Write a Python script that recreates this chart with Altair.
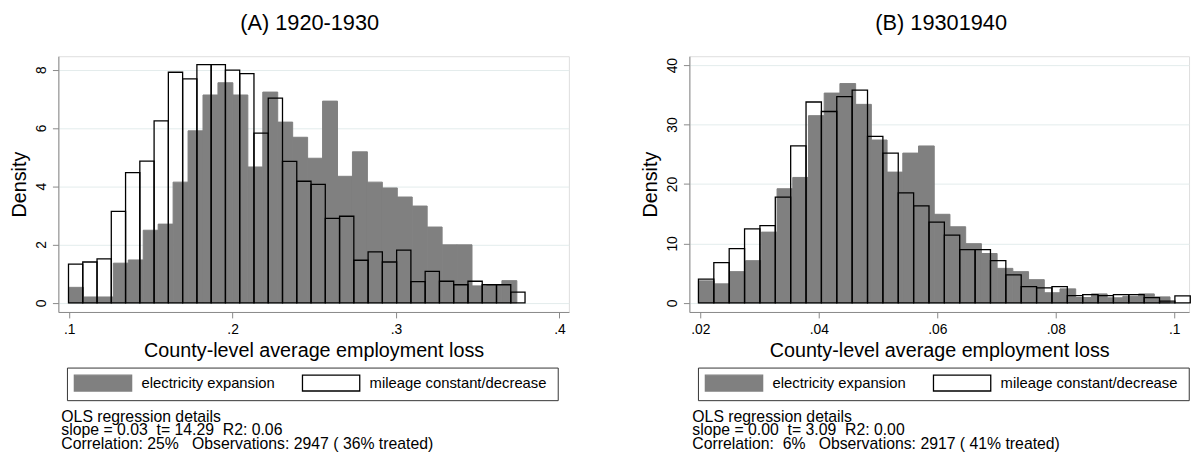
import altair as alt
import pandas as pd

FONT = "Liberation Sans"
GRAY = "#808080"
SERIES = ["electricity expansion", "mileage constant/decrease"]
X_TITLE = "County-level average employment loss"
Y_TITLE = "Density"

# ---------------- Panel A ----------------
a_title = "(A) 1920-1930"
a_gray_start, a_gray_width = 0.0996, 0.009145
a_gray = [0.53, 0.20, 0.20, 1.36, 1.47, 2.49, 2.70, 4.14, 5.90, 7.13,
          7.55, 7.13, 4.66, 7.23, 6.20, 5.68, 4.96, 6.92, 4.34, 5.18,
          4.14, 3.94, 3.63, 3.32, 2.60, 1.99, 1.99, 0.58, 0.62, 0.76]
a_out_start, a_out_width = 0.0996, 0.00873
a_out = [1.33, 1.40, 1.51, 3.14, 4.47, 4.86, 6.24, 7.91, 7.68, 8.17,
         8.17, 7.98, 7.86, 5.82, 7.02, 4.85, 4.17, 4.06, 2.90, 2.97,
         1.46, 1.75, 1.40, 1.81, 0.73, 1.08, 0.74, 0.62, 0.74, 0.62,
         0.62, 0.37]
a_xticks = [0.1, 0.2, 0.3, 0.4]
a_xlabels = [".1", ".2", ".3", ".4"]
a_yticks = [0, 2, 4, 6, 8]
a_xdomain = [0.0934, 0.4058]
a_ydomain = [-0.315, 8.46]
a_notes = ["OLS regression details",
           "slope = 0.03  t= 14.29  R2: 0.06",
           "Correlation: 25%   Observations: 2947 ( 36% treated)"]

# ---------------- Panel B ----------------
b_title = "(B) 19301940"
b_gray_start, b_gray_width = 0.0197, 0.002653
b_gray = [3.7, 3.2, 5.25, 7.1, 11.9, 19.2, 21.1, 31.5, 35.3, 36.9,
          33.4, 27.4, 22.0, 25.2, 26.4, 14.9, 12.8, 9.96, 8.3, 5.8,
          5.25, 3.9, 1.7, 2.35, 0.9, 1.5, 0.85, 1.1, 1.5, 1.0]
b_out_start, b_out_width = 0.0197, 0.002594
b_out = [3.98, 6.75, 9.13, 12.44, 13.0, 17.8, 26.4, 33.8, 32.2, 34.7,
         35.8, 28.0, 25.2, 18.5, 16.3, 13.6, 11.4, 8.96, 8.96, 7.1,
         4.71, 2.72, 2.5, 2.72, 1.22, 1.39, 1.22, 1.39, 1.39, 0.89,
         0.28, 1.17]
b_xticks = [0.02, 0.04, 0.06, 0.08, 0.1]
b_xlabels = [".02", ".04", ".06", ".08", ".1"]
b_yticks = [0, 10, 20, 30, 40]
b_xdomain = [0.018167, 0.1025]
b_ydomain = [-1.54, 41.5]
b_notes = ["OLS regression details",
           "slope = 0.00  t= 3.09  R2: 0.00",
           "Correlation:  6%   Observations: 2917 ( 41% treated)"]

NBSP = "\u00a0"


def bins(start, width, heights, series):
    return pd.DataFrame({
        "x0": [start + i * width for i in range(len(heights))],
        "x1": [start + (i + 1) * width for i in range(len(heights))],
        "h": heights,
        "series": series,
    })


def label_expr(ticks, labels):
    expr = "''"
    for t, l in reversed(list(zip(ticks, labels))):
        expr = f"abs(datum.value - {t}) < 1e-6 ? '{l}' : ({expr})"
    return expr


def panel(title, dx, gs, gw, gh, os_, ow, oh, xticks, xlabels, yticks,
          xdom, ydom, notes, width, height):
    df_g = bins(gs, gw, gh, SERIES[0])
    df_o = bins(os_, ow, oh, SERIES[1])

    leg = alt.Legend(
        title=NBSP, titleOrient="right", titlePadding=5, titleFontSize=15,
        orient="none", legendX=8.7, legendY=315.3,
        direction="horizontal", strokeColor="#333333", padding=6.5,
        symbolType="M-1,-1L6.25,-1L6.25,1L-1,1Z",
        symbolSize=256, symbolStrokeWidth=1.3,
        labelFontSize=15, labelFont=FONT, labelColor="black",
        labelOffset=51, columnPadding=24, labelLimit=400,
    )
    fill_scale = alt.Scale(domain=SERIES, range=[GRAY, "white"])
    stroke_scale = alt.Scale(domain=SERIES, range=[GRAY, "black"])

    x = alt.X("x0:Q",
              scale=alt.Scale(domain=xdom, nice=False, zero=False),
              axis=alt.Axis(values=xticks, labelExpr=label_expr(xticks, xlabels),
                            title=X_TITLE, grid=False, tickSize=6,
                            labelPadding=5, labelFontSize=14,
                            titleFontSize=20, titleFontWeight="normal",
                            titleX=width / 2, titleY=45,
                            titleBaseline="alphabetic", titleAlign="center"))
    y = alt.Y("h:Q",
              scale=alt.Scale(domain=ydom, nice=False, zero=False),
              axis=alt.Axis(values=yticks, title=Y_TITLE, grid=True,
                            gridColor="#e3ecec", gridWidth=1,
                            labelAngle=270, labelAlign="center",
                            labelBaseline="alphabetic", labelPadding=7,
                            labelFontSize=14, tickSize=6,
                            titleFontSize=20, titleFontWeight="normal",
                            titleAngle=270,
                            titleX=-33, titleY=height / 2,
                            titleBaseline="alphabetic", titleAlign="center"))

    gray = alt.Chart(df_g).mark_rect(strokeWidth=1).encode(
        x=x, x2="x1:Q", y=y, y2=alt.datum(0),
        fill=alt.Fill("series:N", scale=fill_scale, legend=leg),
        stroke=alt.Stroke("series:N", scale=stroke_scale, legend=leg),
    )
    outline = alt.Chart(df_o).mark_rect(fill="transparent", strokeWidth=1.3).encode(
        x=x, x2="x1:Q", y=y, y2=alt.datum(0),
        stroke=alt.Stroke("series:N", scale=stroke_scale, legend=leg),
    )
    note_text = "\n".join(n.replace(" ", NBSP) for n in notes)
    notes_layer = alt.Chart(pd.DataFrame({"t": [note_text]})).mark_text(
        align="left", baseline="alphabetic", lineBreak="\n", lineHeight=14,
        fontSize=16, font=FONT, color="black",
    ).encode(x=alt.value(3), y=alt.value(370), text="t:N")

    return alt.layer(gray, outline, notes_layer).properties(
        width=width, height=height,
        title=alt.TitleParams(title, fontSize=22, font=FONT, fontWeight="normal",
                              anchor="middle", offset=5, baseline="alphabetic",
                              dx=dx, color="black"),
    )


left = panel(a_title, -4, a_gray_start, a_gray_width, a_gray, a_out_start,
             a_out_width, a_out, a_xticks, a_xlabels, a_yticks, a_xdomain,
             a_ydomain, a_notes, 517, 259)
right = panel(b_title, 2, b_gray_start, b_gray_width, b_gray, b_out_start,
              b_out_width, b_out, b_xticks, b_xlabels, b_yticks, b_xdomain,
              b_ydomain, b_notes, 506, 259)

chart = alt.hconcat(left, right, spacing=71).resolve_scale(
    x="independent", y="independent", fill="independent", stroke="independent"
).properties(
    padding={"left": 1, "top": 0, "right": 0, "bottom": 0},
).configure_view(strokeWidth=0).configure_axis(
    labelFont=FONT, titleFont=FONT, labelColor="black", titleColor="black",
    titleFontWeight="normal", domainColor="#222222", tickColor="#222222",
    domainWidth=1, tickWidth=1,
).configure(background="white")

chart.save("out.html", embed_options={"renderer": "svg", "actions": False})
